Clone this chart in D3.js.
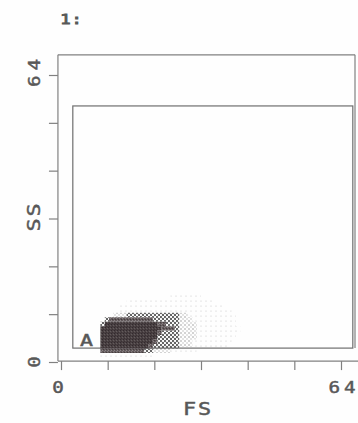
<!DOCTYPE html>
<html><head><meta charset="utf-8">
<script src="https://cdn.jsdelivr.net/npm/d3@7"></script>
<style>html,body{margin:0;padding:0;background:#fff;} svg{display:block}</style>
</head><body>
<svg id="c" width="358" height="423"></svg>
<script>
// ---------- data ----------
const panelTitle = "1:";
const xTitle = "FS";
const yTitle = "SS";
const axisDomain = [0, 64];
const tickValues = [0, 10.67, 21.33, 32, 42.67, 53.33, 64];
const labelValues = [0, 64];
const labelTexts = ["0", "64"];
const gateName = "A";
const gateFS = [2.7, 66.7];
const gateSS = [3.1, 57.1];
// density grid: one row per SS bin (top row = densitySSTop), one char per FS bin starting at densityFSStart
// 0 = empty, 1 = sparse, 2 = light, 3 = medium (checker), 4 = dark, 5 = darkest
const densityFSStart = 8;
const densitySSTop = 14;
const densityRows = [
  "0000000000000000011111110000000000", // SS 14
  "0000000111111111111111111110000000", // SS 13
  "0000011111111111111111111111100000", // SS 12
  "0000011111111111111111111111111000", // SS 11
  "0000222333333333333221111111111100", // SS 10
  "0034444444444333333222111111111100", // SS 9
  "0355555555555544333222211111111100", // SS 8
  "0555555555555554443222211111111110", // SS 7
  "0555555555555543333222211111111110", // SS 6
  "0555555555555533333222211111111100", // SS 5
  "0555555555555433333222111111111000", // SS 4
  "0555555555554333333222111111110000", // SS 3
  "0444444444433222211111100000000000", // SS 2
  "0111111111111000000000000000000000"  // SS 1
];

// ---------- drawing ----------
const svg = d3.select("#c");
const ink = "#585858", lineCol = "#808080";
const font = "'DejaVu Sans Mono', monospace";

const x = d3.scaleLinear().domain(axisDomain).range([61, 341]);
const y = d3.scaleLinear().domain(axisDomain).range([362, 75]);

svg.append("rect").attr("width", 358).attr("height", 423).attr("fill", "#fefefe");

// patterns
const defs = svg.append("defs");
function pat(id, size, bg, items) {
  const p = defs.append("pattern").attr("id", id).attr("patternUnits", "userSpaceOnUse")
    .attr("width", size).attr("height", size);
  if (bg) p.append("rect").attr("width", size).attr("height", size).attr("fill", bg);
  items.forEach(it => {
    if (it.r) p.append("circle").attr("cx", it.x).attr("cy", it.y).attr("r", it.r).attr("fill", it.c);
    else p.append("rect").attr("x", it.x).attr("y", it.y).attr("width", it.w).attr("height", it.h).attr("fill", it.c);
  });
}
pat("p5", 3, "#4a4143", [{x:0,y:0,w:1,h:1,c:"#332b2d"},{x:2,y:1,w:1,h:1,c:"#645b5d"},{x:1,y:2,w:1,h:1,c:"#3a3234"}]);
pat("p4", 3, "#625a5c", [{x:1,y:1,w:1,h:1,c:"#443c3e"},{x:0,y:2,w:1,h:1,c:"#8a8284"},{x:2,y:0,w:1,h:1,c:"#857d7f"}]);
pat("p3", 4, null, [{x:1,y:1,r:1.15,c:"#5e5e5e"},{x:3,y:3,r:1.15,c:"#5e5e5e"}]);
pat("p2", 4, null, [{x:1,y:1,r:0.8,c:"#9a9a9a"},{x:3,y:3,r:0.7,c:"#b0b0b0"}]);
pat("p1", 5, null, [{x:1,y:1,r:0.55,c:"#c4c4c4"}]);
defs.append("filter").attr("id", "soft").attr("x", "-5%").attr("y", "-5%").attr("width", "110%").attr("height", "110%")
  .append("feGaussianBlur").attr("stdDeviation", 0.55);

// frame
const fL = x(-0.7), fR = x(67.2), fT = y(68.5), fB = y(0.2);
const g = svg.append("g").attr("fill", "none").attr("stroke", lineCol).attr("stroke-width", 1.2);
g.append("line").attr("x1", fL).attr("x2", fL).attr("y1", fT).attr("y2", fB);
g.append("line").attr("x1", fL).attr("x2", fR).attr("y1", fT).attr("y2", fT);
g.append("line").attr("x1", fR).attr("x2", fR).attr("y1", fT).attr("y2", y(gateSS[0]));
g.append("line").attr("x1", fL).attr("x2", 358).attr("y1", fB).attr("y2", fB);

// gate rectangle
svg.append("rect")
  .attr("x", x(gateFS[0])).attr("y", y(gateSS[1]))
  .attr("width", x(gateFS[1]) - x(gateFS[0])).attr("height", y(gateSS[0]) - y(gateSS[1]))
  .attr("fill", "none").attr("stroke", "#6e6e6e").attr("stroke-width", 1.2);

// axes (ticks)
const ax = svg.append("g").attr("transform", `translate(0,${fB})`)
  .call(d3.axisBottom(x).tickValues(tickValues).tickSize(9).tickSizeOuter(0).tickFormat(""));
const ay = svg.append("g").attr("transform", `translate(${fL},0)`)
  .call(d3.axisLeft(y).tickValues(tickValues).tickSize(9).tickSizeOuter(0).tickFormat(""));
[ax, ay].forEach(a => {
  a.select(".domain").remove();
  a.selectAll(".tick line").attr("stroke", lineCol).attr("stroke-width", 1.2);
});

// density cells
const paths = {1: "", 2: "", 3: "", 4: "", 5: ""};
densityRows.forEach((row, r) => {
  const ss = densitySSTop - r;
  row.split("").forEach((ch, c) => {
    const lv = +ch;
    if (!lv) return;
    const fs = densityFSStart + c;
    const x0 = x(fs), x1 = x(fs + 1), y0 = y(ss + 1), y1 = y(ss);
    paths[lv] += `M${x0},${y0}H${x1}V${y1}H${x0}Z`;
  });
});
const dg = svg.append("g").attr("filter", "url(#soft)");
[1, 2, 3, 4, 5].forEach(lv => {
  dg.append("path").attr("d", paths[lv]).attr("fill", `url(#p${lv})`);
});

// texts (plotter-like: horizontally stretched, heavy strokes)
const sx = 1.28;
const txt = (s, tx, ty, size, opts = {}) => {
  const rot = opts.rot ? ` rotate(${opts.rot})` : "";
  const t = svg.append("text").text(s).attr("font-family", font).attr("font-size", size)
    .attr("fill", ink).attr("stroke", ink).attr("stroke-width", opts.sw || 0.45)
    .attr("text-anchor", opts.anchor || "middle")
    .attr("transform", `translate(${tx},${ty})${rot} scale(${sx},1)`);
  if (opts.len) t.attr("textLength", opts.len / sx).attr("lengthAdjust", opts.adj || "spacing");
  return t;
};
txt(panelTitle, 60, 24, 14, {anchor: "start", len: 22, sw: 0.8});
// x labels
labelValues.forEach((v, i) => {
  txt(labelTexts[i], x(v) + (i === 0 ? -3 : 1), 393, 15, labelTexts[i].length > 1 ? {len: 27} : {});
});
txt(xTitle, x(32) - 4, 415, 17, {len: 28});
// y labels (rotated)
labelValues.forEach((v, i) => {
  txt(labelTexts[i], 40, y(v) + (i === 0 ? 0 : -2), 15, Object.assign({rot: -90}, labelTexts[i].length > 1 ? {len: 28} : {}));
});
txt(yTitle, 40, y(32) - 1, 17, {rot: -90, len: 28});
// gate name
txt(gateName, 80, 346, 16, {anchor: "start", len: 13, adj: "spacingAndGlyphs"});
</script>
</body></html>
